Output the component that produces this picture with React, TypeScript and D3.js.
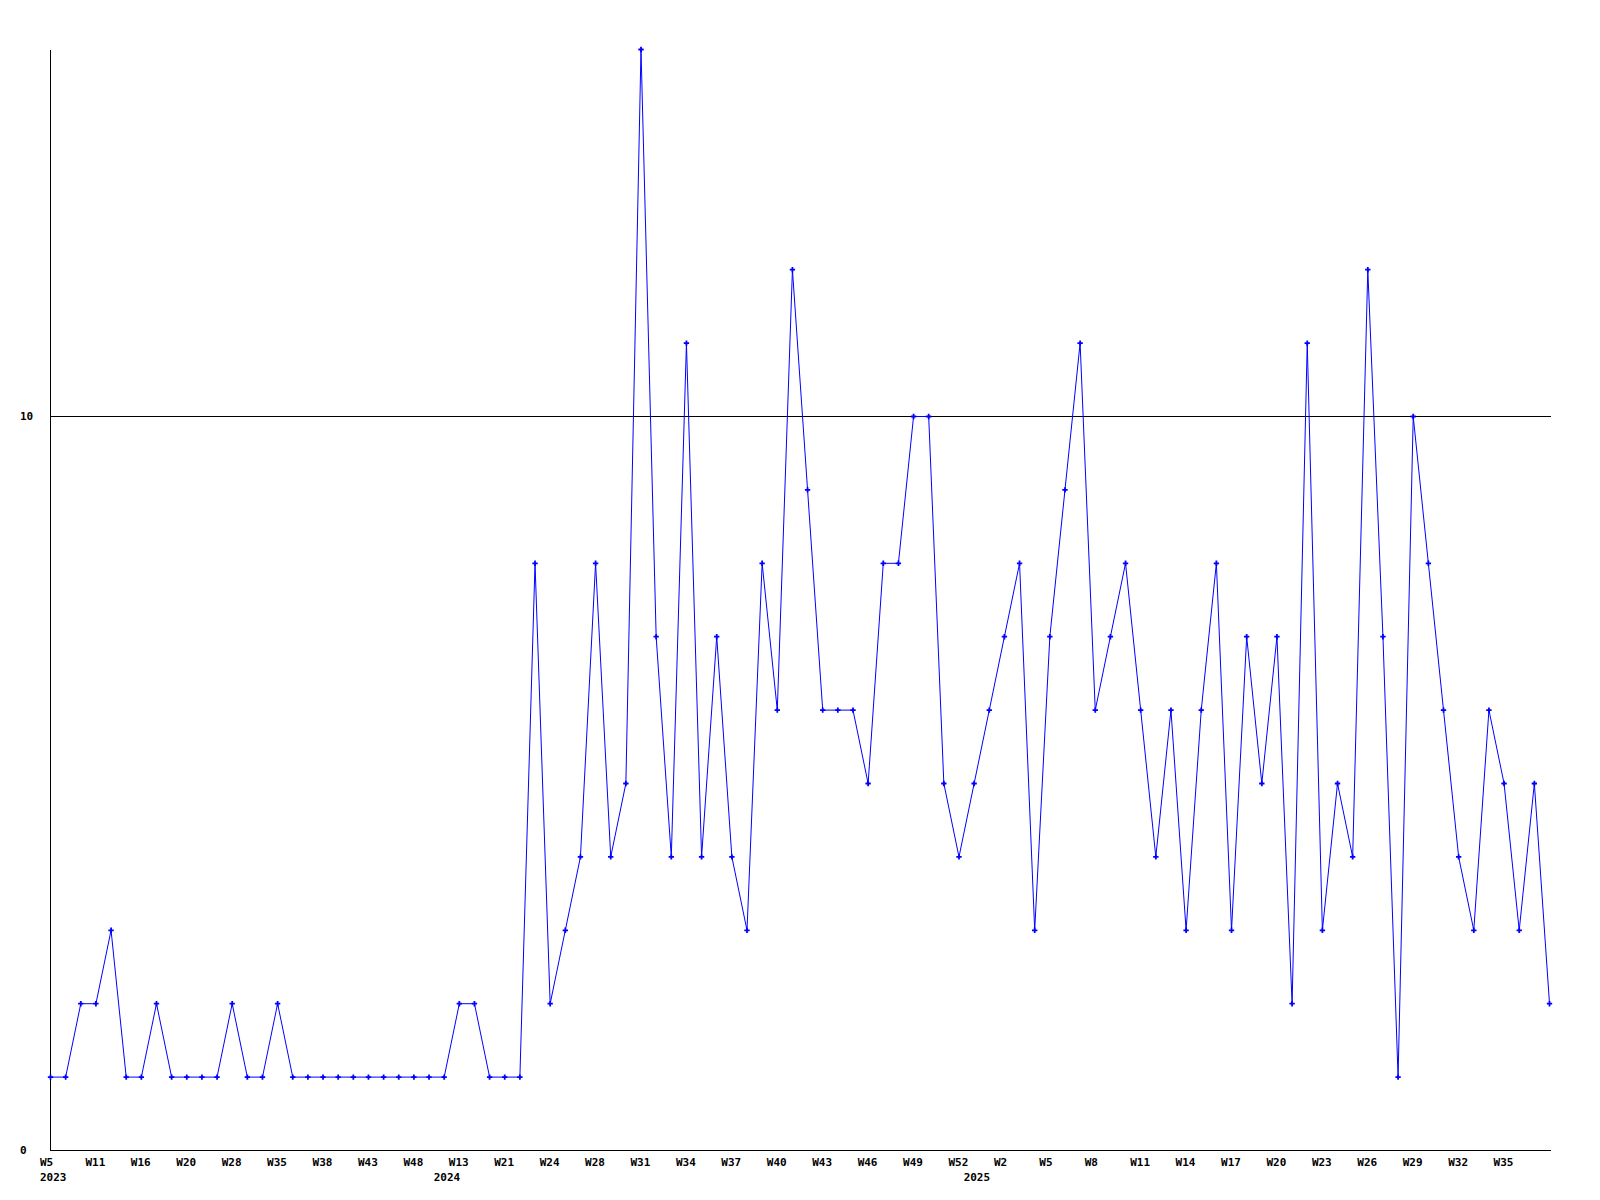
import * as React from 'react';
import * as d3 from 'd3';

// weekly counts, one per week that has data (2023 W5 .. 2025)
const counts = [
  1, 1, 2, 2, 3, 1, 1, 2, 1, 1,
  1, 1, 2, 1, 1, 2, 1, 1, 1, 1,
  1, 1, 1, 1, 1, 1, 1, 2, 2, 1,
  1, 1, 8, 2, 3, 4, 8, 4, 5, 15,
  7, 4, 11, 4, 7, 4, 3, 8, 6, 12,
  9, 6, 6, 6, 5, 8, 8, 10, 10, 5,
  4, 5, 6, 7, 8, 3, 7, 9, 11, 6,
  7, 8, 6, 4, 6, 3, 6, 8, 3, 7,
  5, 7, 2, 11, 3, 5, 4, 12, 7, 1,
  10, 8, 6, 4, 3, 6, 5, 3, 5, 2,
];

// labels shown under every third point
const weekLabels = [
  'W5', 'W11', 'W16', 'W20', 'W28', 'W35', 'W38', 'W43', 'W48', 'W13',
  'W21', 'W24', 'W28', 'W31', 'W34', 'W37', 'W40', 'W43', 'W46', 'W49',
  'W52', 'W2', 'W5', 'W8', 'W11', 'W14', 'W17', 'W20', 'W23', 'W26',
  'W29', 'W32', 'W35',
];
const labelStep = 3;

const yearLabels = ['2023', '2024', '2025'];
const yearStarts = [0, 26, 61];

const yTicks = [0, 10];

export default function App() {
  const width = 1600;
  const height = 1200;
  const left = 50.5;
  const right = 1549.5;
  const axisY = 1150.5;
  const top = 49.5;

  const x = d3.scaleLinear().domain([0, counts.length - 1]).range([left, right]);
  const y = d3.scaleLinear().domain([0, 15]).range([axisY, top]);

  const line = d3.line<number>()
    .x((_, i) => x(i))
    .y((d) => y(d));

  const marker = d3.symbol().type(d3.symbolCross).size(16)() as string;

  const font = { fontFamily: '"DejaVu Sans Mono", monospace', fontWeight: 700, fontSize: 11 };

  return (
    <svg width={width} height={height} style={{ position: 'absolute', left: 0, top: 0, background: '#fff' }}>
      <rect width={width} height={height} fill="#fff" />
      {/* axes */}
      <line x1={left} x2={left} y1={top} y2={axisY} stroke="#000" shapeRendering="crispEdges" />
      <line x1={left} x2={1551} y1={axisY} y2={axisY} stroke="#000" shapeRendering="crispEdges" />
      {/* y labels + grid */}
      {yTicks.map((t) => (
        <g key={t}>
          {t !== 0 && (
            <line x1={left} x2={1551} y1={y(t)} y2={y(t)} stroke="#000" shapeRendering="crispEdges" />
          )}
          <text x={20} y={y(t)} dy="0.35em" {...font}>{t}</text>
        </g>
      ))}
      {/* data */}
      <path d={line(counts) ?? ''} fill="none" stroke="#0000ff" strokeWidth={1} />
      {counts.map((d, i) => (
        <path key={i} d={marker} transform={`translate(${x(i)},${y(d)})`} fill="#0000ff" />
      ))}
      {/* x labels */}
      {weekLabels.map((w, k) => (
        <text key={k} x={x(k * labelStep) - 10.5} y={1166} {...font}>{w}</text>
      ))}
      {yearLabels.map((yr, k) => (
        <text key={yr} x={x(yearStarts[k]) - 10.5} y={1181} {...font}>{yr}</text>
      ))}
    </svg>
  );
}
